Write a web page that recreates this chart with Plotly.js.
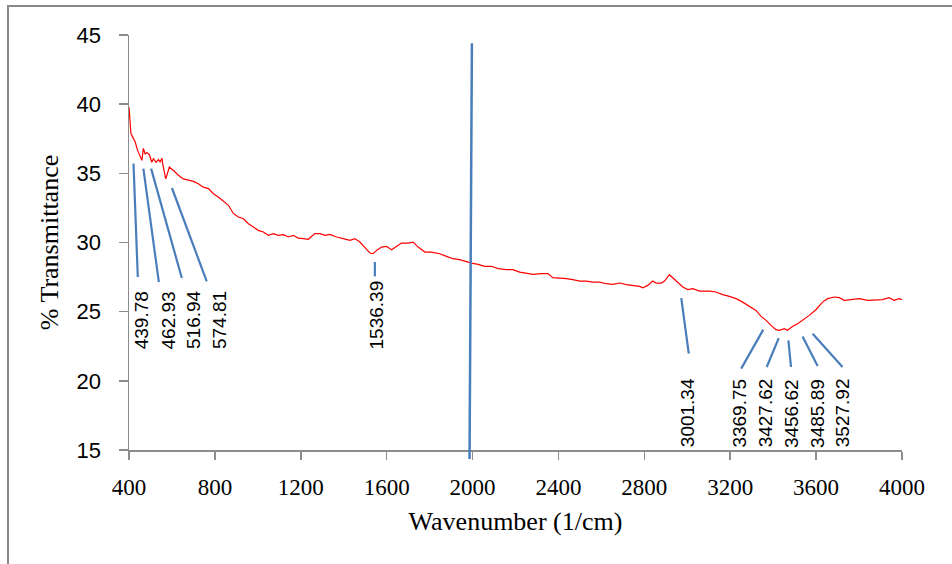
<!DOCTYPE html>
<html><head><meta charset="utf-8">
<script src="https://cdn.plot.ly/plotly-3.0.1.min.js"></script>
<style>
html,body{margin:0;padding:0;background:#fff;overflow:hidden;width:952px;height:564px;}
#frame{position:absolute;left:7px;top:5px;width:1000px;height:700px;border:2px solid #8a8a8a;box-sizing:border-box;}
#chart{position:absolute;left:0;top:0;width:952px;height:564px;}
</style></head><body>
<div id="frame"></div>
<div id="chart"></div>
<script>
// ---- data ----
const wavenumber = [400,409,418,429,440,449,460,467,475,483,495,506,514,526,537,545,553,560,571,581,588,607,630,653,677,700,723,746,770,793,816,840,863,886,909,933,956,979,1002,1026,1049,1072,1095,1119,1142,1165,1188,1212,1235,1251,1266,1289,1312,1336,1367,1398,1429,1452,1475,1499,1522,1536,1553,1576,1599,1623,1646,1669,1700,1723,1747,1778,1809,1847,1879,1909,1940,1972,1995,2026,2057,2088,2119,2158,2188,2219,2251,2282,2320,2351,2374,2413,2437,2467,2499,2530,2560,2592,2623,2653,2685,2716,2747,2778,2793,2816,2839,2855,2879,2894,2917,2932,2956,2979,3002,3026,3057,3072,3103,3134,3165,3196,3227,3258,3289,3320,3344,3367,3390,3413,3429,3452,3467,3491,3514,3537,3568,3599,3630,3653,3685,3708,3731,3762,3801,3840,3879,3909,3940,3963,3987,4000];
const transmittance = [39.8,37.87,37.6,37.26,36.66,36.3,35.94,36.8,36.4,36.5,36.35,35.8,36.06,35.8,36.0,35.8,36.1,35.45,34.6,35.1,35.45,35.2,34.86,34.6,34.5,34.42,34.25,34.0,33.9,33.53,33.29,32.98,32.69,32.1,31.84,31.72,31.36,31.12,30.88,30.76,30.52,30.64,30.52,30.57,30.4,30.52,30.32,30.28,30.23,30.45,30.64,30.64,30.52,30.59,30.4,30.28,30.16,30.28,30.03,29.63,29.24,29.19,29.43,29.67,29.72,29.48,29.72,29.96,29.96,30.03,29.67,29.31,29.31,29.19,29.0,28.83,28.76,28.59,28.51,28.42,28.28,28.28,28.11,28.04,28.04,27.86,27.79,27.7,27.75,27.75,27.46,27.43,27.39,27.31,27.21,27.21,27.14,27.14,27.02,26.97,27.07,26.95,26.9,26.83,26.73,26.9,27.21,27.07,27.07,27.21,27.67,27.46,27.07,26.78,26.6,26.66,26.49,26.49,26.49,26.42,26.23,26.11,25.94,25.69,25.38,25.09,24.66,24.37,24.01,23.7,23.65,23.77,23.65,23.94,24.13,24.37,24.73,25.14,25.69,25.94,26.06,26.01,25.82,25.87,25.94,25.82,25.82,25.87,26.01,25.82,25.94,25.87];
const peakLabels = ["439.78","462.93","516.94","574.81","1536.39","3001.34","3369.75","3427.62","3456.62","3485.89","3527.92"];
const xTickVals = [400,800,1200,1600,2000,2400,2800,3200,3600,4000];
const yTickVals = [15,20,25,30,35,40,45];

// ---- layout of the call-outs (label anchor and leader line end points) ----
const calloutLabelX = [460,582,703,822,1553,2999,3243,3363,3483,3603,3721];
const calloutLabelY = [22.2,22.2,22.2,22.2,22.2,15.1,15.1,15.1,15.1,15.1,15.1];
const leaderTop = [[421,35.7],[467,35.34],[503,35.34],[600,33.94],[1545,28.59],[2972,25.98],[3354,23.7],[3426,23.09],[3471,22.92],[3537,23.21],[3584,23.41]];
const leaderBottom = [[441,27.5],[539,27.14],[646,27.43],[762,27.19],[1545,27.55],[3007,21.96],[3251,20.88],[3370,21.0],[3483,21.0],[3607,21.07],[3723,21.0]];
const markerLine = {xTop:1997, yTop:44.4, xBottom:1986, yBottom:14.35};

const xRange = [400,4000], yRange = [15,45];
const yToPaper = v => (v - yRange[0]) / (yRange[1] - yRange[0]);

const BLUE = '#4a7ebb';
const GRAY = '#8c8c8c';

const shapes = [];
shapes.push({type:'line', xref:'x', yref:'paper',
  x0:markerLine.xTop, y0:yToPaper(markerLine.yTop), x1:markerLine.xBottom, y1:yToPaper(markerLine.yBottom),
  line:{color:BLUE, width:2.5}});
leaderTop.forEach((p,i)=>{
  shapes.push({type:'line', xref:'x', yref:'y', x0:p[0], y0:p[1], x1:leaderBottom[i][0], y1:leaderBottom[i][1],
    line:{color:BLUE, width:2.2}});
});

const annotations = peakLabels.map((t,i)=>({
  x: calloutLabelX[i], y: calloutLabelY[i], xref:'x', yref:'y',
  text: t, showarrow:false, textangle:-90, xanchor:'center', yanchor:'bottom',
  font:{family:'Liberation Sans, Arial, sans-serif', size:19, color:'#000'}, borderpad:0
}));

const trace = {
  x: wavenumber, y: transmittance, type:'scatter', mode:'lines',
  line:{color:'#ff0000', width:1.2}, hoverinfo:'skip'
};

const layout = {
  width:952, height:564,
  margin:{l:129, r:50, t:35, b:114},
  paper_bgcolor:'rgba(0,0,0,0)', plot_bgcolor:'rgba(0,0,0,0)',
  showlegend:false,
  xaxis:{
    range:xRange, tickvals:xTickVals, ticktext:xTickVals.map(String),
    showgrid:false, zeroline:false, showline:true, linecolor:GRAY, linewidth:1.5,
    ticks:'outside', ticklen:8, tickwidth:1.5, tickcolor:GRAY,
    tickfont:{family:'Liberation Serif, Times New Roman, serif', size:23, color:'#000'},
    ticklabelstandoff:8,
    title:{text:'Wavenumber (1/cm)', font:{family:'Liberation Serif, Times New Roman, serif', size:26, color:'#000'}, standoff:12},
    fixedrange:true
  },
  yaxis:{
    range:yRange, tickvals:yTickVals, ticktext:yTickVals.map(String),
    showgrid:false, zeroline:false, showline:true, linecolor:GRAY, linewidth:1.5,
    ticks:'outside', ticklen:9, tickwidth:1.5, tickcolor:GRAY,
    tickfont:{family:'Liberation Sans, Arial, sans-serif', size:22, color:'#000'},
    ticklabelstandoff:13,
    title:{text:'% Transmittance', font:{family:'Liberation Serif, Times New Roman, serif', size:26, color:'#000'}, standoff:10},
    fixedrange:true
  },
  shapes: shapes,
  annotations: annotations
};

Plotly.newPlot('chart', [trace], layout, {displayModeBar:false, staticPlot:true});
</script>
</body></html>
